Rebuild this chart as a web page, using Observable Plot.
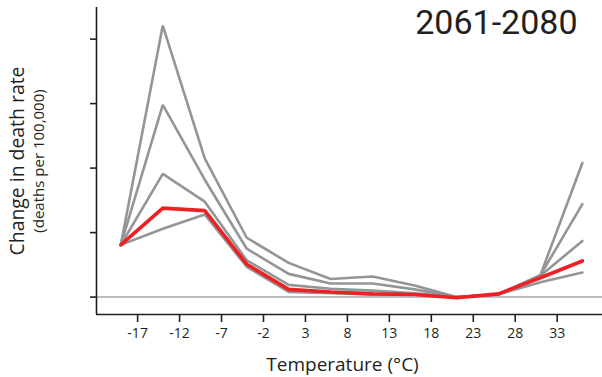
<!DOCTYPE html>
<html>
<head>
<meta charset="utf-8">
<script src="https://cdn.jsdelivr.net/npm/d3@7"></script>
<script src="https://cdn.jsdelivr.net/npm/@observablehq/plot@0.6"></script>
<style>
  html, body { margin: 0; padding: 0; background: #fff; }
  #chart { width: 602px; height: 377px; }
  svg { font-family: "Open Sans", "Noto Sans", sans-serif; }
</style>
</head>
<body>
<div id="chart"></div>
<script>
const temps = [-19, -14, -9, -4, 1, 6, 11, 16, 21, 26, 31, 36];
const xTicks = [-17, -12, -7, -2, 3, 8, 13, 18, 23, 28, 33];
const yTicks = [0, 1, 2, 3, 4];
const seriesNames = ["g1", "g2", "g3", "g4", "central"];
const g1 = [0.81, 4.21, 2.15, 0.92, 0.53, 0.28, 0.32, 0.18, 0.0, 0.04, 0.34, 2.08];
const g2 = [0.81, 2.98, 1.82, 0.75, 0.36, 0.21, 0.21, 0.12, 0.0, 0.04, 0.34, 1.44];
const g3 = [0.81, 1.91, 1.48, 0.57, 0.19, 0.13, 0.10, 0.06, 0.0, 0.04, 0.33, 0.87];
const g4 = [0.81, 1.06, 1.28, 0.47, 0.08, 0.06, 0.04, 0.05, 0.0, 0.04, 0.23, 0.38];
const central = [0.81, 1.38, 1.34, 0.51, 0.12, 0.08, 0.05, 0.04, -0.01, 0.05, 0.30, 0.56];
const periodLabel = "2061-2080";
const xTitle = "Temperature (°C)";
const yTitle = "Change in death rate";
const ySubtitle = "(deaths per 100,000)";

const grays = [g1, g2, g3, g4];
const grayRows = grays.flatMap((s, i) => s.map((v, j) => ({series: seriesNames[i], temp: temps[j], value: v})));
const redRows = central.map((v, j) => ({series: "central", temp: temps[j], value: v}));

const xDomain = [-21.9, 38.4];
const yDomain = [-0.27, 4.49];

const chart = Plot.plot({
  width: 602,
  height: 377,
  marginLeft: 96,
  marginRight: 0,
  marginTop: 7,
  marginBottom: 63,
  style: {fontFamily: "'Open Sans', 'Noto Sans', sans-serif", background: "#fff"},
  x: {domain: xDomain},
  y: {domain: yDomain},
  marks: [
    Plot.ruleY([0], {stroke: "#a7a9ac", strokeWidth: 1.5}),
    Plot.line(grayRows, {x: "temp", y: "value", z: "series", stroke: "#939598", strokeWidth: 2.6, strokeLinejoin: "miter"}),
    Plot.line(redRows, {x: "temp", y: "value", stroke: "#ed2024", strokeWidth: 3.6, strokeLinejoin: "miter"}),
    Plot.ruleX([xDomain[0]], {stroke: "#231f20", strokeWidth: 1.6}),
    Plot.ruleY([yDomain[0]], {stroke: "#231f20", strokeWidth: 1.6}),
    Plot.axisX({ticks: xTicks, tickSize: 8, tickPadding: 6, fontSize: 14, tickFormat: d => String(d), stroke: "#231f20", strokeWidth: 1.6, fill: "#231f20", label: null}),
    Plot.axisY({ticks: yTicks, tickSize: 6, tickFormat: () => "", stroke: "#231f20", strokeWidth: 1.6, label: null}),
    Plot.text([xTitle], {text: d => d, frameAnchor: "bottom", textAnchor: "middle", dx: -7, dy: 56, fontSize: 19, fill: "#231f20"}),
    Plot.text([yTitle], {text: d => d, frameAnchor: "left", textAnchor: "middle", rotate: -90, dx: -79, dy: 0, fontSize: 19.4, fill: "#231f20"}),
    Plot.text([ySubtitle], {text: d => d, frameAnchor: "left", textAnchor: "middle", rotate: -90, dx: -57, dy: 0, fontSize: 15, fill: "#231f20"}),
    Plot.text([periodLabel], {text: d => d, frameAnchor: "top-right", textAnchor: "end", lineAnchor: "top", dx: -25, dy: 2, fontSize: 34, fontFamily: "Roboto, 'Open Sans', sans-serif", fill: "#231f20"})
  ]
});
document.getElementById("chart").appendChild(chart);
</script>
</body>
</html>
